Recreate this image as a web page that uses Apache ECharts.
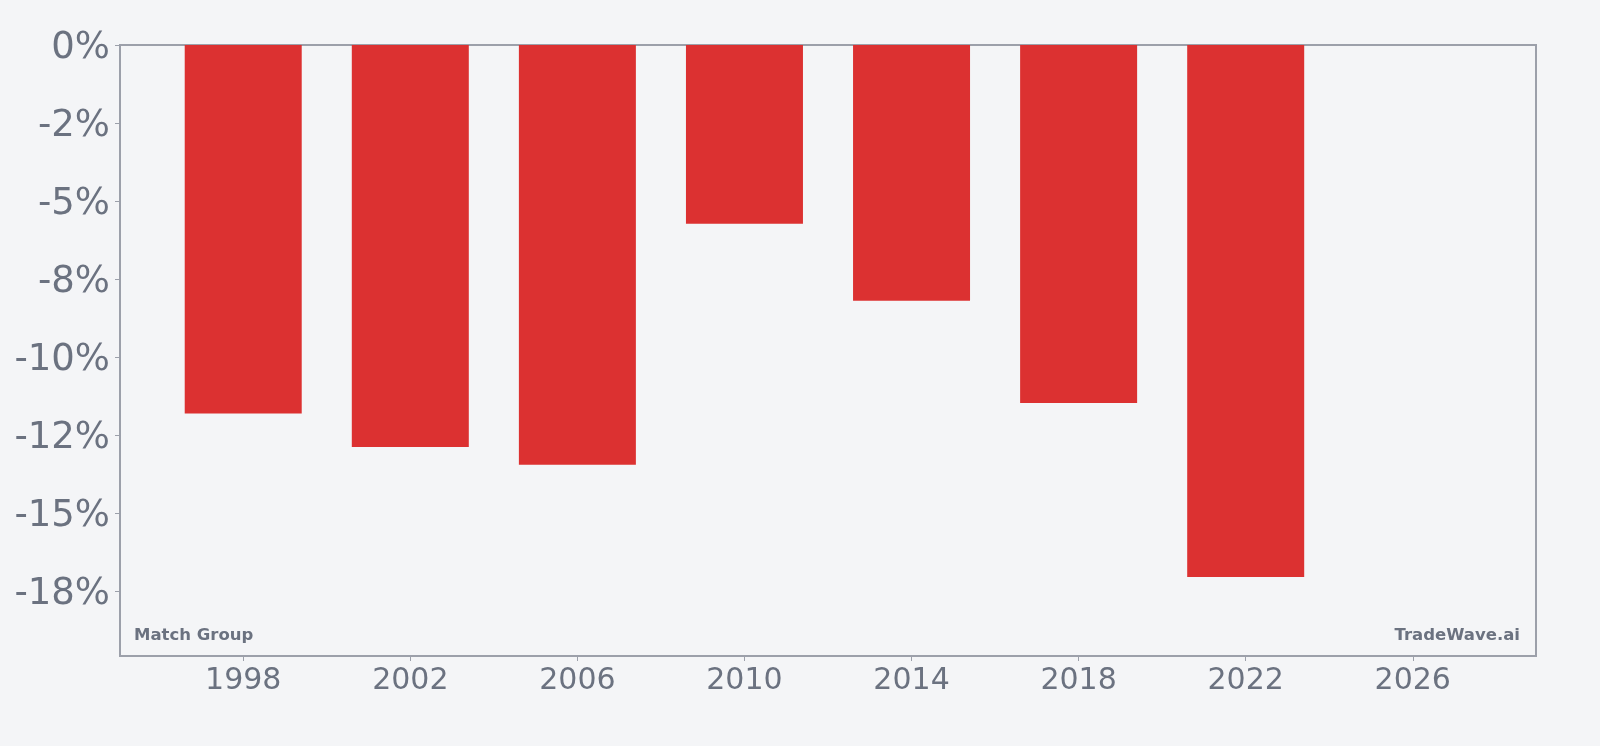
<!DOCTYPE html>
<html>
<head>
<meta charset="utf-8">
<script src="https://cdn.jsdelivr.net/npm/echarts@6/dist/echarts.min.js"></script>
<style>
  html, body { margin: 0; padding: 0; background: #f4f5f7; }
  .bar { width: 1600px; height: 746px; }
</style>
</head>
<body>
<div class="bar"></div>
<script>
// data
const years = [1998, 2002, 2006, 2010, 2014, 2018, 2022];
const returns = [-11.8, -12.87, -13.44, -5.72, -8.19, -11.46, -17.03];
const xTicks = [1998, 2002, 2006, 2010, 2014, 2018, 2022, 2026];
const yTicks = [0, -2.5, -5, -7.5, -10, -12.5, -15, -17.5];
const yTickLabels = ["0%", "-2%", "-5%", "-8%", "-10%", "-12%", "-15%", "-18%"];

function setBar() {
  let myChart = echarts.init(document.querySelector(".bar"));
  let textColor = "#6b7280";
  let lineColor = "#9ca0aa";
  let option = {
    backgroundColor: "#f4f5f7",
    animation: false,
    grid: {
      left: 120,
      right: 64,
      top: 45,
      bottom: 90,
      show: true,
      borderColor: lineColor,
      borderWidth: 2,
      backgroundColor: "transparent",
    },
    xAxis: {
      type: "value",
      min: 1995.05,
      max: 2028.95,
      splitLine: { show: false },
      axisLine: { show: false, onZero: false },
      axisTick: {
        show: true,
        customValues: xTicks,
        length: 5,
        lineStyle: { color: lineColor, width: 1 },
      },
      axisLabel: {
        customValues: xTicks,
        color: textColor,
        fontSize: 30,
        fontFamily: "DejaVu Sans",
        margin: 10,
        formatter: (v) => String(v),
      },
    },
    yAxis: {
      type: "value",
      min: -19.56,
      max: 0,
      splitLine: { show: false },
      axisLine: { show: false, onZero: false },
      axisTick: {
        show: true,
        customValues: yTicks,
        length: 5,
        lineStyle: { color: lineColor, width: 1 },
      },
      axisLabel: {
        customValues: yTicks,
        color: textColor,
        fontSize: 37,
        fontFamily: "DejaVu Sans",
        margin: 10,
        //标签整体下移一点
        formatter: (v) => "{l|" + (yTickLabels[yTicks.indexOf(v)] ?? "") + "}",
        rich: {
          l: {
            color: textColor,
            fontSize: 37,
            fontFamily: "DejaVu Sans",
            padding: [6, 0, 0, 0],
          },
        },
      },
    },
    graphic: [
      {
        type: "text",
        left: 134,
        top: 627,
        style: {
          text: "Match Group",
          fill: textColor,
          fontSize: 16.5,
          fontWeight: "bold",
          fontFamily: "DejaVu Sans",
        },
      },
      {
        type: "text",
        right: 80,
        top: 627,
        style: {
          text: "TradeWave.ai",
          fill: textColor,
          fontSize: 16.5,
          fontWeight: "bold",
          fontFamily: "DejaVu Sans",
        },
      },
    ],
    series: [
      {
        name: "Return",
        type: "bar",
        barWidth: 117,
        itemStyle: { color: "#dc3131" },
        data: years.map((y, i) => [y, returns[i]]),
      },
    ],
  };
  myChart.setOption(option);
}
setBar();
</script>
</body>
</html>
